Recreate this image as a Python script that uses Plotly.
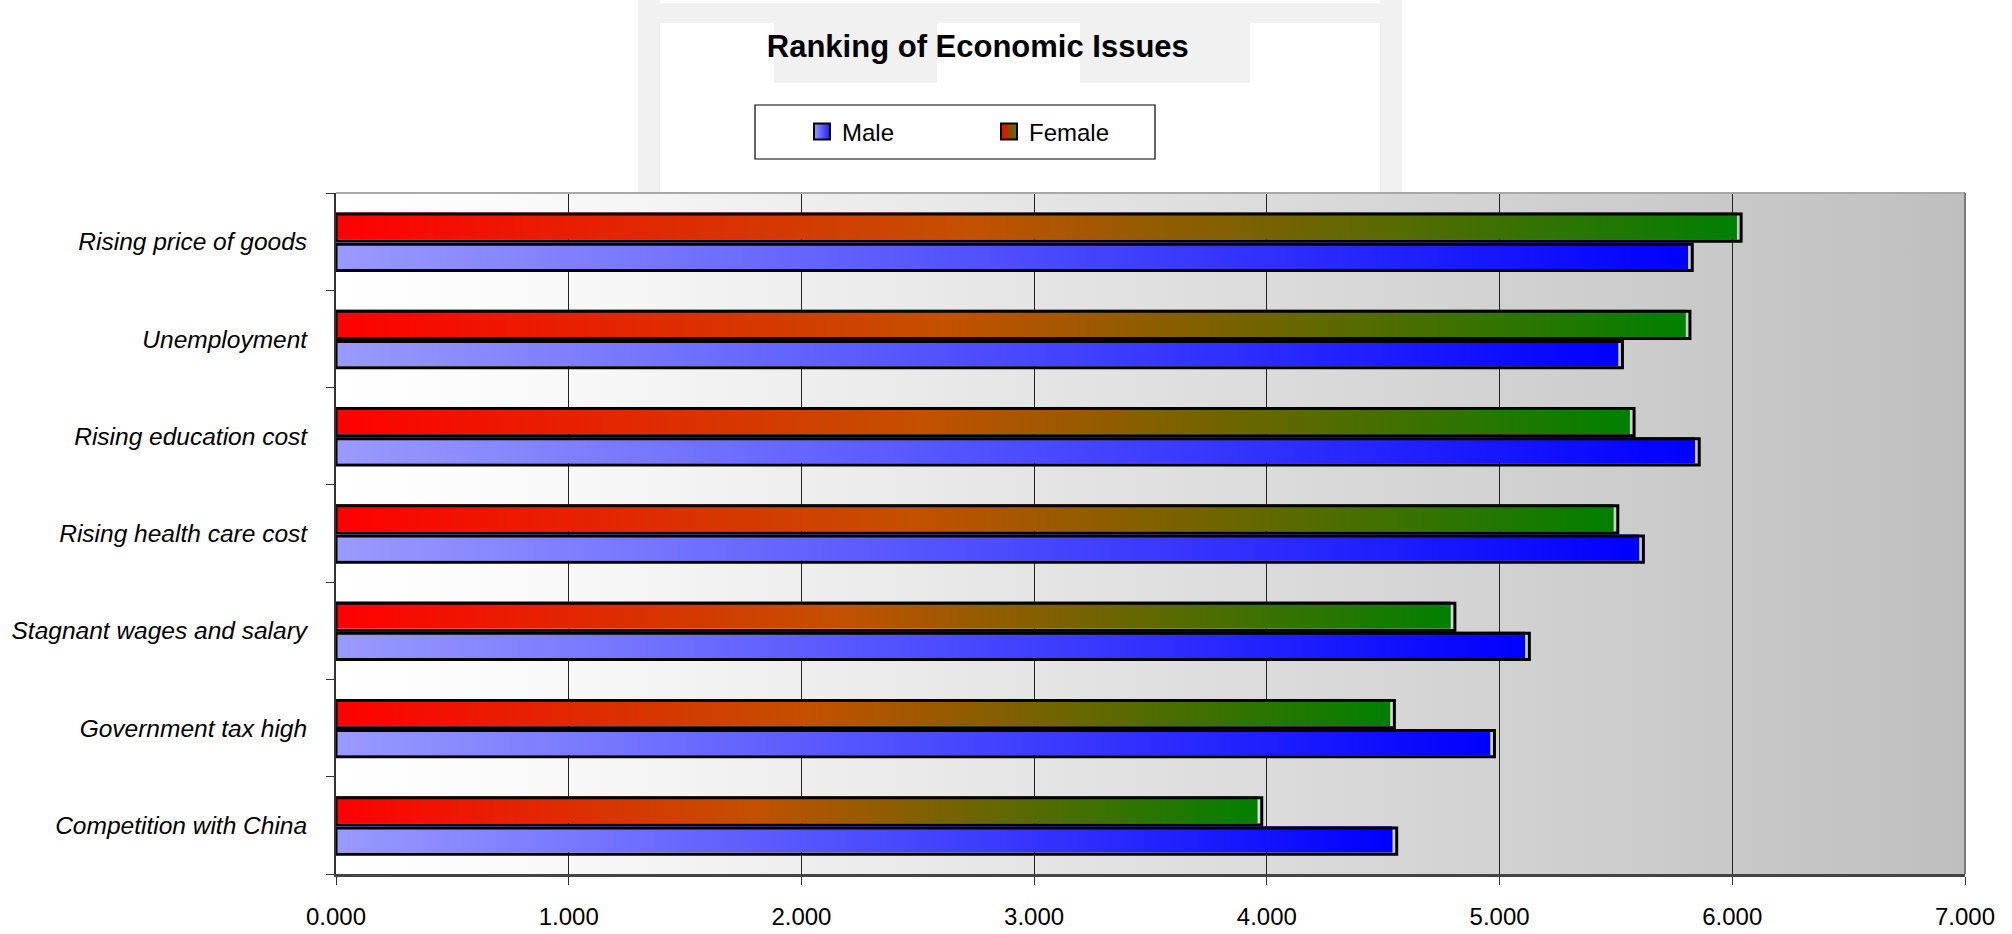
import base64
import plotly.graph_objects as go

# ---------------- data ----------------
categories = [
    "Rising price of goods",
    "Unemployment",
    "Rising education cost",
    "Rising health care cost",
    "Stagnant wages and salary",
    "Government tax high",
    "Competition with China",
]
male = [5.81, 5.51, 5.84, 5.60, 5.11, 4.96, 4.54]
female = [6.02, 5.80, 5.56, 5.49, 4.79, 4.53, 3.96]
x_tick_values = [0, 1, 2, 3, 4, 5, 6, 7]
x_tick_labels = ["0.000", "1.000", "2.000", "3.000", "4.000", "5.000", "6.000", "7.000"]

# ---------------- style ----------------
FONT = "Liberation Sans, Arial, sans-serif"
MALE_SCALE = [[0, "#9a9aff"], [1, "#0000ff"]]
FEMALE_SCALE = [[0, "#ff0000"], [0.45, "#c45000"], [1, "#008000"]]
FEMALE_BAND = (0.02, 0.30)
MALE_BAND = (-0.28, -0.01)
SHADOW_DX = 0.018
SHADOW_DY = -0.016

W, H = 2012, 934
ML, MR, MT, MB = 336, 47, 193, 60
PW, PH = W - ML - MR, H - MT - MB


def px_x(px):
    return (px - ML) / PW


def px_y(py):
    return (H - MB - py) / PH


n = len(categories)
ypos = [n - 1 - i for i in range(n)]

fig = go.Figure()


def add_bar(value, centre, band, scale, name):
    y0 = centre + band[0]
    y1 = centre + band[1]
    fig.add_trace(go.Scatter(
        x=[0, value, value, 0, 0],
        y=[y0, y0, y1, y1, y0],
        mode="lines",
        fill="toself",
        fillgradient=dict(type="horizontal", colorscale=scale),
        line=dict(width=0, color="rgba(0,0,0,0)"),
        showlegend=False,
        hoverinfo="skip",
    ))
    fig.add_trace(go.Scatter(
        x=[0, value + SHADOW_DX, value + SHADOW_DX, 0, 0],
        y=[y0 + SHADOW_DY, y0 + SHADOW_DY, y1 + SHADOW_DY, y1 + SHADOW_DY, y0 + SHADOW_DY],
        mode="lines",
        line=dict(width=3, color="black"),
        showlegend=False,
        name=name,
        hovertemplate=name + ": %{text}<extra></extra>",
        text=[f"{value:.3f}"] * 5,
    ))


for i in range(n):
    add_bar(female[i], ypos[i], FEMALE_BAND, FEMALE_SCALE, "Female")
    add_bar(male[i], ypos[i], MALE_BAND, MALE_SCALE, "Male")

# legend entries
fig.add_trace(go.Scatter(
    x=[None], y=[None], mode="markers", name="Male",
    marker=dict(symbol="square", size=16, color="#9a9aff",
                gradient=dict(type="horizontal", color="#2020ff"),
                line=dict(color="black", width=2)),
))
fig.add_trace(go.Scatter(
    x=[None], y=[None], mode="markers", name="Female",
    marker=dict(symbol="square", size=16, color="#ff0000",
                gradient=dict(type="horizontal", color="#408000"),
                line=dict(color="black", width=2)),
))

# plot-area gradient background
svg = ("<svg xmlns='http://www.w3.org/2000/svg' width='200' height='20' preserveAspectRatio='none'>"
       "<defs><linearGradient id='g' x1='0' x2='1' y1='0' y2='0'>"
       "<stop offset='0' stop-color='#ffffff'/><stop offset='0.08' stop-color='#fcfcfc'/>"
       "<stop offset='1' stop-color='#bfbfbf'/>"
       "</linearGradient></defs><rect width='200' height='20' fill='url(#g)'/></svg>")
svg_uri = "data:image/svg+xml;base64," + base64.b64encode(svg.encode()).decode()

fig.add_layout_image(dict(
    source=svg_uri, xref="x", yref="y", x=0, y=n - 0.5,
    sizex=x_tick_values[-1], sizey=n, sizing="stretch",
    xanchor="left", yanchor="top", layer="below",
))

# faint watermark behind the title (decorative)
WM = "#f1f1f1"
for (x0, x1, y0, y1) in [(638, 660, 0, 193), (1380, 1402, 0, 193), (638, 1402, 3, 23),
                         (774, 937, 23, 83), (1080, 1250, 23, 83)]:
    fig.add_shape(type="rect", xref="paper", yref="paper",
                  x0=px_x(x0), x1=px_x(x1), y0=px_y(y1), y1=px_y(y0),
                  fillcolor=WM, line=dict(width=0), layer="below")

# legend box
fig.add_shape(type="rect", xref="paper", yref="paper",
              x0=px_x(755), x1=px_x(1155), y0=px_y(159), y1=px_y(105),
              fillcolor="white", line=dict(color="black", width=1.2), layer="below")

fig.update_layout(
    width=W, height=H,
    margin=dict(l=ML, r=MR, t=MT, b=MB, autoexpand=False),
    paper_bgcolor="white",
    plot_bgcolor="rgba(0,0,0,0)",
    font=dict(family=FONT, color="black", size=24),
    title=dict(text="<b>Ranking of Economic Issues</b>", x=0.486, xref="container",
               xanchor="center", y=1 - 46 / H, yref="container", yanchor="middle",
               font=dict(family=FONT, size=31, color="black")),
    legend=dict(orientation="h", xref="container", yref="container",
                x=802 / W, y=1 - 132 / H, xanchor="left", yanchor="middle",
                borderwidth=0, bgcolor="rgba(0,0,0,0)",
                font=dict(family=FONT, size=24, color="black"),
                entrywidth=142, entrywidthmode="pixels",
                itemsizing="trace"),
    showlegend=True,
)

fig.update_xaxes(
    range=[0, x_tick_values[-1]],
    tickvals=x_tick_values, ticktext=x_tick_labels,
    showgrid=True, gridcolor="#222222", gridwidth=1.3,
    showline=True, linecolor="#444444", linewidth=2.5,
    ticks="outside", ticklen=8, tickcolor="#333333", tickwidth=1.3,
    ticklabelstandoff=11, automargin=False,
    zeroline=False, fixedrange=True,
    tickfont=dict(family=FONT, size=24, color="black"),
)
fig.update_yaxes(
    range=[-0.5, n - 0.5],
    tickvals=ypos, ticktext=categories,
    showgrid=False, zeroline=False,
    showline=True, linecolor="#333333", linewidth=2,
    ticks="", ticklabelstandoff=22, automargin=False,
    minor=dict(tickvals=[k - 0.5 for k in range(n + 1)], ticks="outside",
               ticklen=8, tickcolor="#333333", tickwidth=1.3, showgrid=False),
    tickfont=dict(family=FONT, size=24.5, color="black", style="italic"),
    fixedrange=True,
)

# plot-area border (top / right)
fig.add_shape(type="line", xref="paper", yref="paper", x0=0, x1=1, y0=1, y1=1,
              line=dict(color="#a8a8a8", width=2))
fig.add_shape(type="line", xref="paper", yref="paper", x0=1, x1=1, y0=0, y1=1,
              line=dict(color="#7a7a7a", width=2))

fig.write_html("out.html", config={"displayModeBar": False},
               post_script="document.body.style.margin='0';")
